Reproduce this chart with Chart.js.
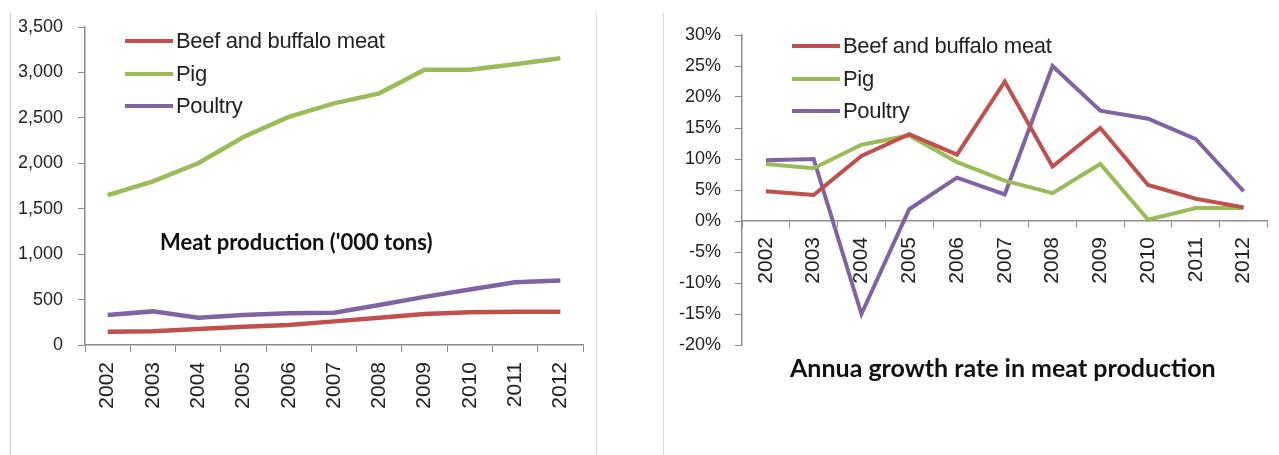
<!DOCTYPE html>
<html>
<head>
<meta charset="utf-8">
<script src="https://cdn.jsdelivr.net/npm/chart.js@4.4.1/dist/chart.umd.min.js"></script>
<style>
  html, body { margin: 0; padding: 0; background: #fff; }
  #wrap { position: relative; width: 1279px; height: 455px; overflow: hidden; }
  .box { position: absolute; top: 0; height: 455px; }
  .sep { position: absolute; top: 13px; width: 1px; height: 442px; background: #dcdcdc; }
  .title { position: absolute; font-family: Lato, 'Open Sans', sans-serif; font-weight: bold; color: #111; white-space: nowrap; }
  .legend { position: absolute; font-family: 'Liberation Sans', Arial, sans-serif; font-size: 22px; color: #222; letter-spacing: -0.3px; }
  .legend div { height: 32.5px; display: flex; align-items: center; }
  .legend span.sw { display: inline-block; width: 48px; height: 4px; margin-right: 3px; }
</style>
</head>
<body>
<div id="wrap">
  <div class="sep" style="left:10px;background:#c8c8c8"></div>
  <div class="sep" style="left:596px"></div>
  <div class="sep" style="left:663px"></div>
  <div class="box" style="left:0;width:600px"><canvas id="production"></canvas></div>
  <div class="box" style="left:640px;width:639px"><canvas id="growth"></canvas></div>
  <div class="legend" id="legendLeft" style="left:125px;top:25px"></div>
  <div class="legend" id="legendRight" style="left:792px;top:30px"></div>
  <div class="title" style="left:160px;top:228px;font-size:22px">Meat production ('000 tons)</div>
  <div class="title" style="left:790px;top:352px;font-size:25px">Annua growth rate in meat production</div>
</div>
<script>
const years = ['2002', '2003', '2004', '2005', '2006', '2007', '2008', '2009', '2010', '2011', '2012'];
const seriesNames = ['Beef and buffalo meat', 'Pig', 'Poultry'];
const seriesColors = ['#c0504d', '#9bbb59', '#8064a2'];

// '000 tons
const beefTons = [145, 150, 175, 200, 220, 260, 300, 340, 360, 365, 365];
const pigTons = [1650, 1800, 2000, 2290, 2510, 2660, 2770, 3030, 3030, 3090, 3155];
const poultryTons = [330, 370, 300, 330, 350, 355, 440, 530, 610, 690, 710];

// annual growth, %
const beefGrowth = [4.8, 4.2, 10.5, 14.0, 10.7, 22.5, 8.8, 15.0, 5.8, 3.6, 2.2];
const pigGrowth = [9.2, 8.5, 12.3, 13.8, 9.5, 6.5, 4.5, 9.2, 0.2, 2.1, 2.1];
const poultryGrowth = [9.8, 10.0, -15.0, 1.9, 7.0, 4.3, 25.0, 17.8, 16.5, 13.2, 4.8];

const tickFont = { family: "'Liberation Sans', Arial, sans-serif", size: 18 };
const axisGray = '#8c8c8c';

function buildLegend(id) {
  const el = document.getElementById(id);
  seriesNames.forEach((name, i) => {
    const row = document.createElement('div');
    row.innerHTML = `<span class="sw" style="background:${seriesColors[i]}"></span>${name}`;
    el.appendChild(row);
  });
}
buildLegend('legendLeft');
buildLegend('legendRight');

function datasets(values, width) {
  return values.map((v, i) => ({
    label: seriesNames[i],
    data: v,
    borderColor: seriesColors[i],
    backgroundColor: seriesColors[i],
    borderWidth: width,
    pointRadius: 0,
    tension: 0,
    fill: false
  }));
}

const xTicks = {
  color: '#222',
  font: { family: tickFont.family, size: 21 },
  maxRotation: 90,
  minRotation: 90,
  autoSkip: false
};

new Chart(document.getElementById('production'), {
  type: 'line',
  data: { labels: years, datasets: datasets([beefTons, pigTons, poultryTons], 4.5) },
  options: {
    responsive: true,
    maintainAspectRatio: false,
    animation: false,
    layout: { padding: { top: 27, right: 17, left: 0, bottom: 0 } },
    plugins: { legend: { display: false }, tooltip: { enabled: false } },
    scales: {
      x: {
        offset: true,
        grid: { drawOnChartArea: false, color: axisGray, tickLength: 7, offset: true },
        border: { color: axisGray, width: 1.5 },
        ticks: Object.assign({ padding: 10 }, xTicks),
        afterFit: s => { s.height = 110; }
      },
      y: {
        min: 0,
        max: 3500,
        grid: { drawOnChartArea: false, color: axisGray, tickLength: 7 },
        border: { color: axisGray, width: 1.5 },
        ticks: {
          stepSize: 500,
          color: '#222',
          font: tickFont,
          padding: 15,
          callback: v => v.toLocaleString('en-US')
        },
        afterFit: s => { s.width = 85; }
      }
    }
  }
});

new Chart(document.getElementById('growth'), {
  type: 'line',
  data: { labels: years, datasets: datasets([beefGrowth, pigGrowth, poultryGrowth], 4) },
  options: {
    responsive: true,
    maintainAspectRatio: false,
    animation: false,
    layout: { padding: { top: 35, right: 4, left: 0, bottom: 110 } },
    plugins: { legend: { display: false }, tooltip: { enabled: false } },
    scales: {
      x: {
        position: { y: 0 },
        offset: true,
        grid: { drawOnChartArea: false, color: axisGray, tickLength: 6, offset: true },
        border: { color: axisGray, width: 1.5 },
        ticks: Object.assign({ padding: 10 }, xTicks)
      },
      y: {
        min: -20,
        max: 30,
        grid: { drawOnChartArea: false, color: axisGray, tickLength: 7 },
        border: { color: axisGray, width: 1.5 },
        ticks: {
          stepSize: 5,
          color: '#222',
          font: tickFont,
          padding: 14,
          callback: v => v + '%'
        },
        afterFit: s => { s.width = 102; }
      }
    }
  }
});
</script>
</body>
</html>
